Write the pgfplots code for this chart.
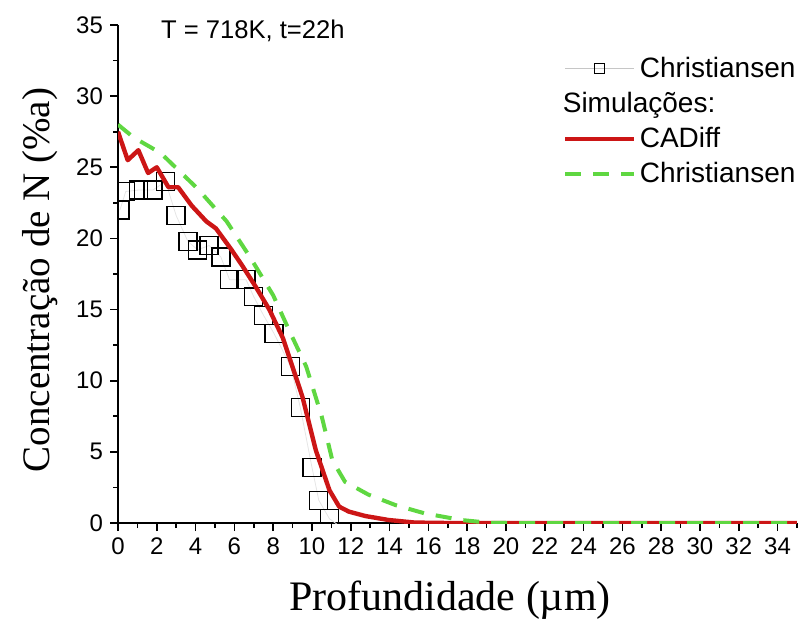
\documentclass[border=0pt]{standalone}
\usepackage{pgfplots}
\pgfplotsset{compat=1.18}
\usepackage{fontspec}
\setmainfont{Liberation Sans}
\newfontfamily\serif{Liberation Serif}
\definecolor{cadred}{RGB}{204,22,22}
\definecolor{simgreen}{RGB}{95,215,65}

\begin{document}
\begin{tikzpicture}
\useasboundingbox (0,0) rectangle (402pt,311pt);
\begin{axis}[
  name=ax,
  at={(59pt,49.5pt)}, anchor=south west,
  scale only axis, width=339.5pt, height=249pt,
  xmin=0, xmax=35, ymin=0, ymax=35,
  axis lines*=left,
  axis line style={line width=0.8pt},
  xtick={0,2,...,34}, ytick={0,5,...,35},
  minor xtick={1,3,...,35}, minor ytick={2.5,7.5,...,32.5},
  tick align=outside, major tick length=4pt, minor tick length=2.5pt,
  tick style={black, line width=0.8pt},
  tick label style={font=\fontsize{12}{14}\selectfont},
  /pgf/number format/assume math mode=true,
  xlabel={\serif Profundidade (µm)},
  ylabel={\serif Concentração de N (\%a)},
  xlabel style={font=\fontsize{21}{24}\selectfont, at={(axis description cs:0.489,-0.155)}, anchor=center},
  ylabel style={font=\fontsize{19.5}{22}\selectfont, at={(axis description cs:-0.115,0.488)}, anchor=center},
  clip marker paths=true,
  legend image code/.code={\draw[mark repeat=2,mark phase=2,#1] plot coordinates {(0cm,0cm) (0.6cm,0cm) (1.2cm,0cm)};},
  legend style={draw=none, fill=none, at={(0.655,0.945)}, anchor=north west,
    font=\fontsize{14}{16}\selectfont, inner sep=0pt, row sep=2pt},
  legend cell align=left,
]
\addlegendimage{gray!45, line width=0.6pt, mark=square, mark size=2.5pt, mark options={black, solid, line width=0.5pt}}
\addlegendentry{Christiansen}
\addlegendimage{empty legend}
\addlegendentry{\hspace{-38.5pt}Simulações:}

% experimental points
\addplot[gray!20, line width=0.4pt, mark=square, mark size=4.5pt,
  mark options={black, solid, line width=0.7pt}, forget plot] coordinates {
  (0.1,22.0) (0.4,23.3) (1.05,23.4) (1.8,23.4) (2.45,24.0) (3.0,21.6)
  (3.6,19.8) (4.1,19.2) (4.7,19.5) (5.3,18.7) (5.75,17.1) (6.6,17.1)
  (7.0,15.9) (7.5,14.6) (8.05,13.3) (8.9,11.0) (9.4,8.1) (10.0,3.9)
  (10.35,1.6) (10.9,0.3) (11.4,-0.2) (12.0,-0.3) (14.7,-0.1) (15.7,-0.1)
  (16.9,-0.1)
};

% CADiff
\addplot[cadred, line width=2.2pt, line join=round] coordinates {
  (0,27.5) (0.5,25.5) (1.05,26.2) (1.55,24.6) (2.0,25.0) (2.6,23.6)
  (3.1,23.6) (3.8,22.3) (4.55,21.2) (5.05,20.7) (5.8,19.3) (6.4,18.1)
  (7.1,16.6) (7.8,15.0) (8.5,13.0) (9.5,8.9) (10.2,5.1) (10.9,2.3)
  (11.4,1.15) (11.9,0.8) (12.75,0.49) (13.95,0.21) (15.3,0.03) (17,0) (35,0)
};
\addlegendentry{CADiff}

% Christiansen simulation
\addplot[simgreen, line width=2pt, dash pattern=on 8pt off 6pt] coordinates {
  (0,28.0) (0.8,27.1) (2.2,26.0) (4.1,23.5) (5.6,21.2) (6.8,18.7)
  (8.0,16.0) (8.8,13.6) (9.7,11.0) (10.5,7.5) (11.05,4.4) (11.7,2.9)
  (12.9,2.0) (14.3,1.26) (15.8,0.68) (17.7,0.21) (19.1,0.02) (20,0) (35,0)
};
\addlegendentry{Christiansen}
\end{axis}
\node[anchor=west, font=\fontsize{12.8}{15}\selectfont] at ([xshift=18pt,yshift=-3pt]ax.north west) {T = 718K, t=22h};
\end{tikzpicture}
\end{document}
